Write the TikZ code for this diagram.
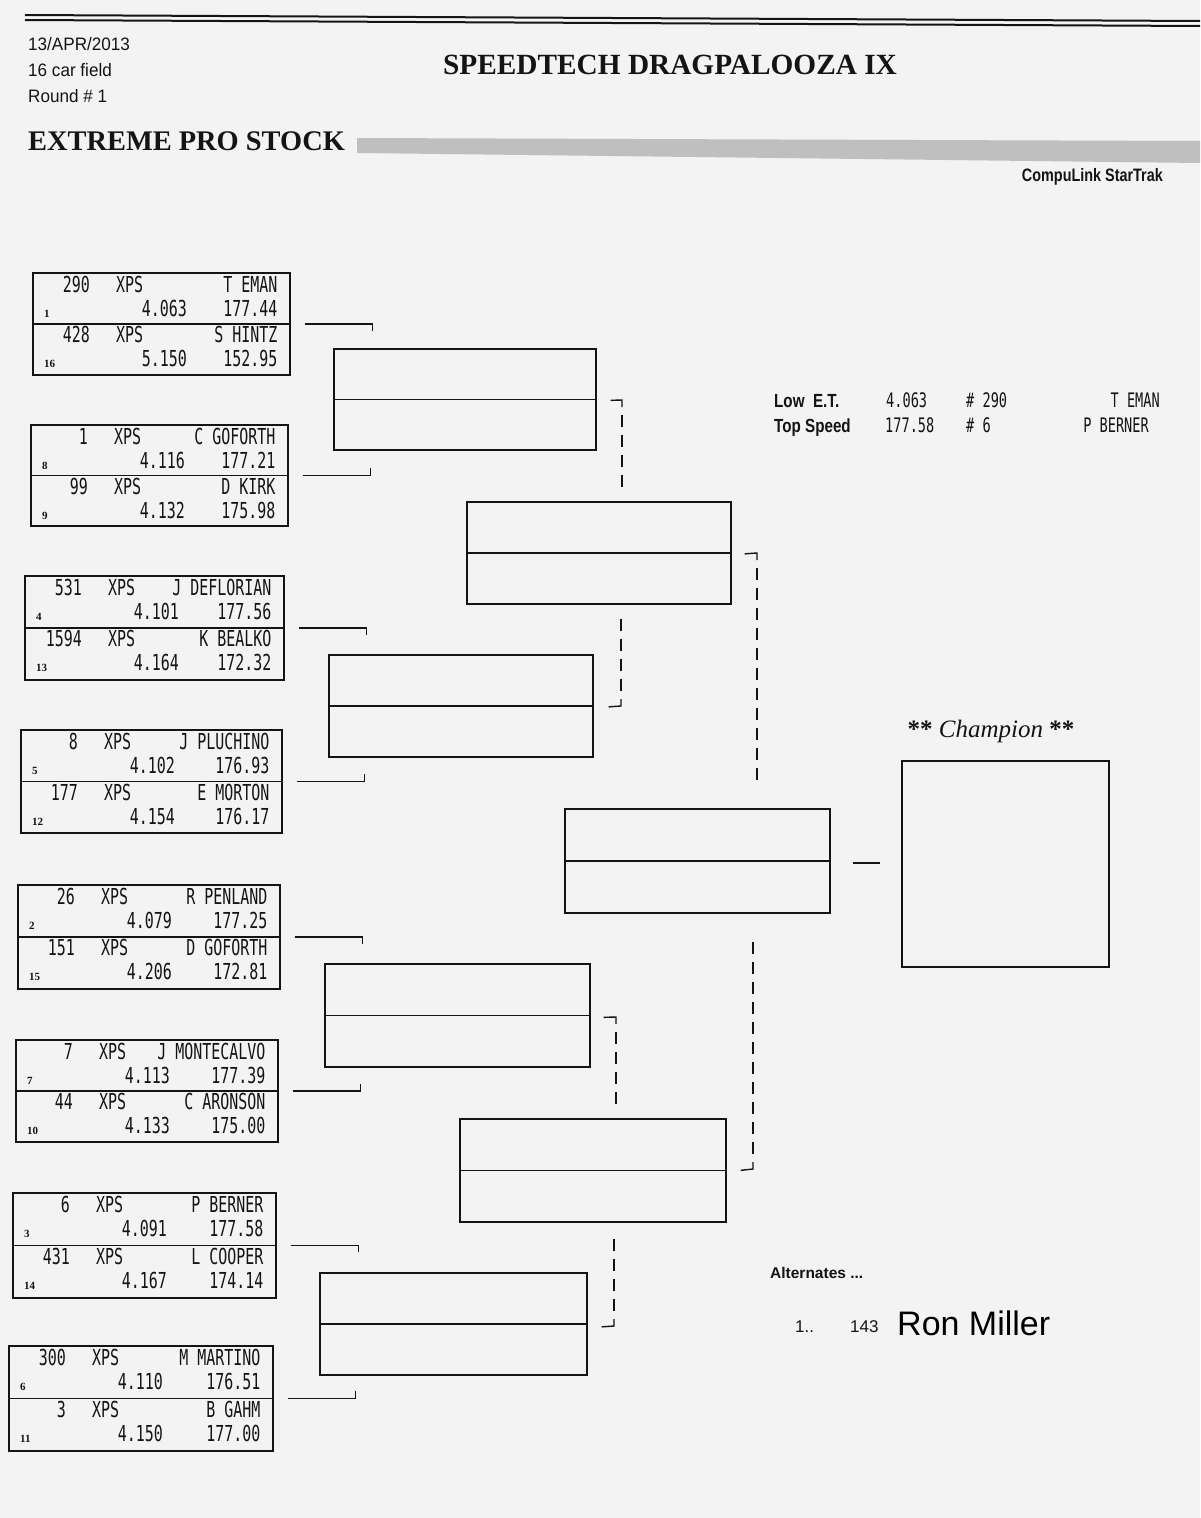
\documentclass[tikz,border=0pt]{standalone}
\usepackage{fontspec}
\setmainfont{Liberation Serif}
\newfontfamily\monof[FakeStretch=0.68]{DejaVu Sans Mono}
\newfontfamily\hdrf[FakeStretch=0.95]{Liberation Sans}
\newfontfamily\bcondf[FakeStretch=0.8]{Liberation Sans}
\newfontfamily\plainsf{Liberation Sans}
\usetikzlibrary{calc}
\definecolor{paper}{RGB}{243,243,243}
\definecolor{ink}{RGB}{20,20,20}
\tikzset{
  boxline/.style={draw=ink, line width=1.7pt},
  slot/.style={boxline, rectangle, inner sep=0pt, anchor=north west},
  conn/.style={draw=ink, line width=1.4pt},
  dashconn/.style={draw=ink, line width=1.4pt, dash pattern=on 12pt off 8pt},
  mono/.style={inner sep=0pt, text=ink, font=\monof\fontsize{22}{22}\selectfont},
  monos/.style={inner sep=0pt, text=ink, font=\monof\fontsize{20}{20}\selectfont},
  seedf/.style={inner sep=0pt, text=ink, font=\bfseries\fontsize{11}{11}\selectfont},
  hdr/.style={inner sep=0pt, text=ink, font=\hdrf\fontsize{18}{18}\selectfont},
  bcond/.style={inner sep=0pt, text=ink, font=\bcondf\bfseries\fontsize{19}{19}\selectfont},
  titlef/.style={inner sep=0pt, text=ink, font=\bfseries\fontsize{29.3}{30}\selectfont},
}
\newcommand\Slot[5]{%
  \node[slot, minimum width={(#4-#2)*1pt}, minimum height={(#5-#3)*1pt}] (#1) at (#2,#3) {};
  \draw[boxline] (#1.west) -- (#1.east);}
\newcommand\Half[9]{%
  \node[mono,anchor=base east] (#1-#4n) at ($(#1.#2)+(58,#4)$) {#5};
  \node[mono,anchor=base west] (#1-#4c) at ($(#1.#2)+(84,#4)$) {XPS};
  \node[mono,anchor=base east] (#1-#4d) at ($(#1.#3)+(-13,#4)$) {#6};
  \node[mono,anchor=base east] (#1-#4e) at ($(#1.#2)+(155,#4+24)$) {#7};
  \node[mono,anchor=base east] (#1-#4s) at ($(#1.#3)+(-13,#4+24)$) {#8};
  \node[seedf,anchor=base west] (#1-#4k) at ($(#1.#2)+(12,#4+25)$) {#9};}
\newcommand\Entry[5]{%
  \Slot{#1}{#2}{#3}{#4}{#5}}
\newcommand\OutDown[1]{%
  \coordinate (#1-o) at ($(#1.east)+(14,0)$);
  \coordinate (#1-t) at ($(#1.east)+(82,7)$);
  \draw[conn] (#1-o) -| (#1-t);}
\newcommand\OutUp[1]{%
  \coordinate (#1-o) at ($(#1.east)+(14,0)$);
  \coordinate (#1-t) at ($(#1.east)+(82,-7)$);
  \draw[conn] (#1-o) -| (#1-t);}
% corner connector: tick (o)--(c), solid start of the vertical, dashed rest to (e)
\newcommand\Corner[1]{%
  \draw[conn] (#1-o) -- (#1-c) -- ($(#1-c)!7pt!(#1-e)$);
  \draw[dashconn] ($(#1-c)!15pt!(#1-e)$) -- (#1-e);}
\begin{document}
\begin{tikzpicture}[x=1pt,y=-1pt]
\useasboundingbox (0,0) rectangle (1200,1518);
\fill[paper] (0,0) rectangle (1200,1518);

% header rules
\coordinate (rA1) at (25,15); \coordinate (rA2) at (1200,21);
\coordinate (rB1) at (25,20); \coordinate (rB2) at (1200,26);
\draw[ink, line width=2pt] (rA1) -- (rA2);
\draw[ink, line width=2pt] (rB1) -- (rB2);

% header texts
\node[hdr,anchor=base west] (date) at (28,50) {13/APR/2013};
\node[hdr,anchor=base west] (field) at (28,76) {16 car field};
\node[hdr,anchor=base west] (round) at (28,102) {Round \# 1};
\node[titlef,anchor=base west] (title) at (443,74) {SPEEDTECH DRAGPALOOZA IX};
\node[titlef,font=\bfseries\fontsize{28.4}{30}\selectfont,anchor=base west] (cls) at (28,150) {EXTREME PRO STOCK};
\fill[gray!50] (357,138) -- (1200,141) -- (1200,163) -- (357,153) -- cycle;
\node[bcond,font=\bcondf\bfseries\fontsize{18}{18}\selectfont,anchor=base east] (cl) at (1163,181) {CompuLink StarTrak};

% first-round entries
\Entry{e1}{32}{272}{289}{374}
\Half{e1}{north west}{north east}{20}{290}{T EMAN}{4.063}{177.44}{1}
\Half{e1}{west}{east}{19}{428}{S HINTZ}{5.150}{152.95}{16}
\Entry{e2}{30}{424}{287}{525}
\Half{e2}{north west}{north east}{20}{1}{C GOFORTH}{4.116}{177.21}{8}
\Half{e2}{west}{east}{19}{99}{D KIRK}{4.132}{175.98}{9}
\Entry{e3}{24}{575}{283}{679}
\Half{e3}{north west}{north east}{20}{531}{J DEFLORIAN}{4.101}{177.56}{4}
\Half{e3}{west}{east}{19}{1594}{K BEALKO}{4.164}{172.32}{13}
\Entry{e4}{20}{729}{281}{832}
\Half{e4}{north west}{north east}{20}{8}{J PLUCHINO}{4.102}{176.93}{5}
\Half{e4}{west}{east}{19}{177}{E MORTON}{4.154}{176.17}{12}
\Entry{e5}{17}{884}{279}{988}
\Half{e5}{north west}{north east}{20}{26}{R PENLAND}{4.079}{177.25}{2}
\Half{e5}{west}{east}{19}{151}{D GOFORTH}{4.206}{172.81}{15}
\Entry{e6}{15}{1039}{277}{1141}
\Half{e6}{north west}{north east}{20}{7}{J MONTECALVO}{4.113}{177.39}{7}
\Half{e6}{west}{east}{19}{44}{C ARONSON}{4.133}{175.00}{10}
\Entry{e7}{12}{1192}{275}{1297}
\Half{e7}{north west}{north east}{20}{6}{P BERNER}{4.091}{177.58}{3}
\Half{e7}{west}{east}{19}{431}{L COOPER}{4.167}{174.14}{14}
\Entry{e8}{8}{1345}{272}{1450}
\Half{e8}{north west}{north east}{20}{300}{M MARTINO}{4.110}{176.51}{6}
\Half{e8}{west}{east}{19}{3}{B GAHM}{4.150}{177.00}{11}

\OutDown{e1}\OutUp{e2}\OutDown{e3}\OutUp{e4}
\OutDown{e5}\OutUp{e6}\OutDown{e7}\OutUp{e8}

% later rounds
\Slot{r2a}{333}{348}{595}{449}
\Slot{r2b}{328}{654}{592}{756}
\Slot{r2c}{324}{963}{589}{1066}
\Slot{r2d}{319}{1272}{586}{1374}
\Slot{r3a}{466}{501}{730}{603}
\Slot{r3b}{459}{1118}{725}{1221}
\Slot{fin}{564}{808}{829}{912}
\node[slot, minimum width=207pt, minimum height=206pt] (champ) at (901,760) {};

% connectors between rounds
\coordinate (r2a-o) at ($(r2a.east)+(14,1)$); \coordinate (r2a-c) at (622,400); \coordinate (r2a-e) at (622,487);
\Corner{r2a}
\coordinate (r2b-o) at ($(r2b.east)+(15,1)$); \coordinate (r2b-c) at (621,706); \coordinate (r2b-e) at (621,619);
\Corner{r2b}
\coordinate (r2c-o) at ($(r2c.east)+(13,2)$); \coordinate (r2c-c) at (616,1017); \coordinate (r2c-e) at (616,1104);
\Corner{r2c}
\coordinate (r2d-o) at ($(r2d.east)+(14,3)$); \coordinate (r2d-c) at (614,1326); \coordinate (r2d-e) at (614,1239);
\Corner{r2d}
\coordinate (r3a-o) at ($(r3a.east)+(13,1)$); \coordinate (r3a-c) at (757,553); \coordinate (r3a-e) at (757,780);
\Corner{r3a}
\coordinate (r3b-o) at ($(r3b.east)+(14,0)$); \coordinate (r3b-c) at (753,1169); \coordinate (r3b-e) at (753,942);
\Corner{r3b}
\coordinate (fin-o) at ($(fin.east)+(22,2)$); \coordinate (fin-e) at ($(fin.east)+(49,2)$);
\draw[conn] (fin-o) -- (fin-e);

% champion title
\node[inner sep=0pt, text=ink, font=\fontsize{25}{25}\selectfont, anchor=base] (champt) at (991,737) {\textbf{**} \textit{Champion} \textbf{**}};

% low ET / top speed
\node[bcond,anchor=base west] (let) at (774,407) {Low\ \ E.T.};
\node[monos,anchor=base west] (letv) at (886,407) {4.063};
\node[monos,anchor=base west] (letn) at (966,407) {\# 290};
\node[monos,anchor=base east] (letd) at (1160,407) {T EMAN};
\node[bcond,anchor=base west] (tsp) at (774,432) {Top Speed};
\node[monos,anchor=base west] (tspv) at (885,432) {177.58};
\node[monos,anchor=base west] (tspn) at (966,432) {\# 6};
\node[monos,anchor=base east] (tspd) at (1149,432) {P BERNER};

% alternates
\node[inner sep=0pt, text=ink, font=\plainsf\bfseries\fontsize{15.5}{16}\selectfont, anchor=base west] (alt) at (770,1278) {Alternates ...};
\node[inner sep=0pt, text=ink, font=\plainsf\fontsize{17}{17}\selectfont, anchor=base west] (alt1) at (795,1332) {1..};
\node[inner sep=0pt, text=ink, font=\plainsf\fontsize{17}{17}\selectfont, anchor=base west] (alt1n) at (850,1332) {143};
\node[inner sep=0pt, text=black, font=\plainsf\fontsize{34}{34}\selectfont, anchor=base west] (alt1h) at (897,1335) {Ron Miller};
\end{tikzpicture}
\end{document}
